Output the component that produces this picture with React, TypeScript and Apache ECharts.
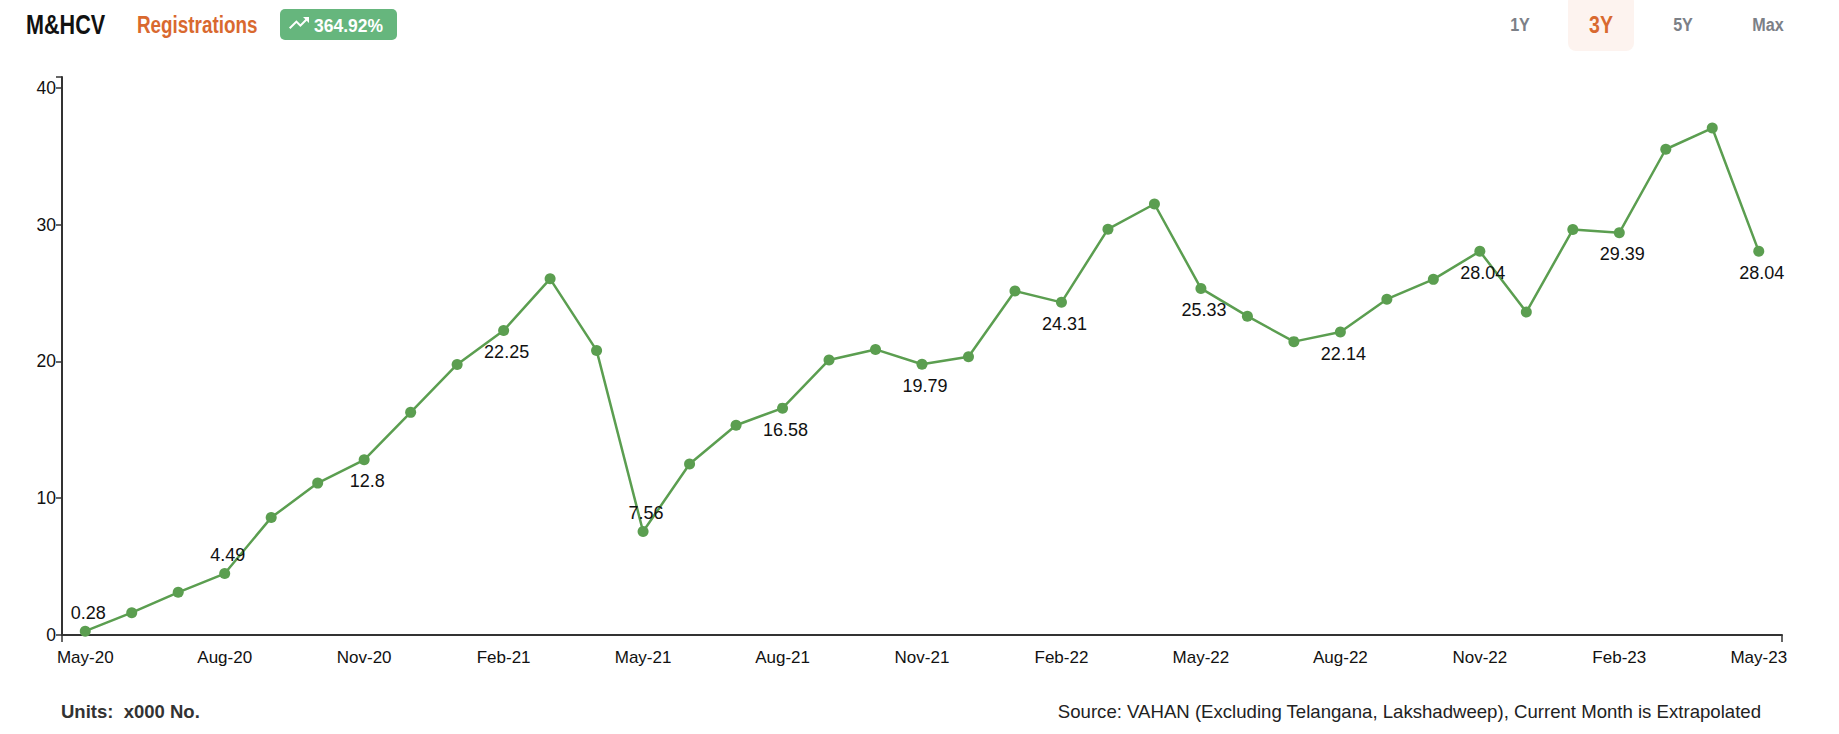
import React, { useEffect, useRef } from "react";
import * as echarts from "echarts";

const categories = [
  "May-20","Jun-20","Jul-20","Aug-20","Sep-20","Oct-20","Nov-20","Dec-20","Jan-21","Feb-21","Mar-21","Apr-21",
  "May-21","Jun-21","Jul-21","Aug-21","Sep-21","Oct-21","Nov-21","Dec-21","Jan-22","Feb-22","Mar-22","Apr-22",
  "May-22","Jun-22","Jul-22","Aug-22","Sep-22","Oct-22","Nov-22","Dec-22","Jan-23","Feb-23","Mar-23","Apr-23","May-23",
];
const values = [
  0.28, 1.63, 3.12, 4.49, 8.58, 11.1, 12.8, 16.27, 19.77, 22.25, 26.03, 20.8,
  7.56, 12.5, 15.33, 16.58, 20.1, 20.87, 19.79, 20.34, 25.14, 24.31, 29.66, 31.5,
  25.33, 23.3, 21.44, 22.14, 24.54, 25.99, 28.04, 23.6, 29.63, 29.39, 35.5, 37.05, 28.04,
];
// indices whose value is printed, and where the label sits
const labelAbove = [0, 3, 12];
const labelEvery = 3;
const yTicks = [0, 10, 20, 30, 40];
const yMax = 40.78;
const rangeButtons = ["1Y", "3Y", "5Y", "Max"];
const activeRange = "3Y";
const changePct = "364.92%";

const GREEN = "#5b9e50";
const ARROW =
  "M16 6l2.29 2.29-4.88 4.88-4-4L2 16.59 3.41 18l6-6 4 4 6.3-6.29L22 12V6z";

export default function App() {
  const ref = useRef<HTMLDivElement>(null);
  useEffect(() => {
    document.body.style.margin = "0";
    try {
      echarts.graphic.registerShape("trendup", echarts.graphic.extendPath(ARROW, {}));
    } catch (e) {}
    const chart = echarts.init(ref.current!, undefined, { renderer: "svg" });
    const font = "'Liberation Sans', Arial, sans-serif";

    const data = values.map((v, i) => {
      const show = i % labelEvery === 0;
      const above = labelAbove.includes(i);
      return {
        value: v,
        label: {
          show,
          position: above ? "top" : "bottom",
          distance: above ? 4 : 7,
        },
      };
    });

    const btnX = [1520, 1601, 1683, 1768];
    const buttons: any[] = [];
    rangeButtons.forEach((b, i) => {
      const active = b === activeRange;
      if (active) {
        buttons.push({
          type: "rect",
          shape: { x: btnX[i] - 33, y: -6, width: 66, height: 57, r: 8 },
          style: { fill: "#fdf3ef" },
        });
      }
      buttons.push({
        type: "text",
        x: btnX[i],
        y: 25,
        scaleX: 0.85,
        style: {
          text: b,
          fill: active ? "#d9692f" : "#7c8087",
          font: `bold ${active ? 23 : 19}px ${font}`,
          align: "center",
          verticalAlign: "middle",
        },
      });
    });

    chart.setOption({
      animation: false,
      grid: { left: 62, right: 57, top: 77, bottom: 99 },
      xAxis: [
        {
          type: "category",
          data: categories,
          boundaryGap: true,
          axisLine: { lineStyle: { color: "#333", width: 2 } },
          axisTick: { alignWithLabel: true, interval: labelEvery - 1, length: 7, lineStyle: { color: "#333", width: 1.5 } },
          axisLabel: { interval: labelEvery - 1, color: "#111", fontSize: 17, fontFamily: font, margin: 14 },
          splitLine: { show: false },
        },
        {
          type: "value",
          min: 0,
          max: 1,
          interval: 1,
          position: "bottom",
          axisLine: { show: false },
          axisTick: { show: true, length: 7, lineStyle: { color: "#333", width: 1.5 } },
          axisLabel: { show: false },
          splitLine: { show: false },
        },
      ],
      yAxis: [
        {
          type: "value",
          min: 0,
          max: yMax,
          interval: 10,
          axisLine: { show: true, lineStyle: { color: "#333", width: 2 } },
          axisTick: { show: true, length: 6, lineStyle: { color: "#333", width: 1.5 } },
          axisLabel: {
            color: "#111",
            fontSize: 17.5,
            fontFamily: font,
            margin: 6,
            formatter: (v: number) => (yTicks.includes(Math.round(v * 100) / 100) ? String(v) : ""),
          },
          splitLine: { show: false },
        },
      ],
      series: [
        {
          type: "line",
          data,
          symbol: "circle",
          symbolSize: 11,
          itemStyle: { color: GREEN },
          lineStyle: { color: GREEN, width: 2.5 },
          label: {
            color: "#111",
            fontSize: 18,
            fontFamily: font,
            offset: [3, 0],
            formatter: (p: any) => String(p.value),
          },
        },
      ],
      graphic: [
        {
          type: "text",
          x: 26,
          y: 25,
          scaleX: 0.8,
          style: { text: "M&HCV", fill: "#111", font: `bold 27px ${font}`, verticalAlign: "middle" },
        },
        {
          type: "text",
          x: 137,
          y: 25,
          scaleX: 0.82,
          style: { text: "Registrations", fill: "#d9692f", font: `bold 23px ${font}`, verticalAlign: "middle" },
        },
        {
          type: "rect",
          shape: { x: 280, y: 9, width: 117, height: 31, r: 5 },
          style: { fill: "#66b67d" },
        },
        {
          type: "trendup",
          x: 287,
          y: 11,
          scaleX: 1.0,
          scaleY: 1.0,
          style: { fill: "#ffffff" },
        },
        {
          type: "text",
          x: 314,
          y: 25,
          scaleX: 0.92,
          style: { text: changePct, fill: "#ffffff", font: `bold 19px ${font}`, verticalAlign: "middle" },
        },
        ...buttons,
        {
          type: "text",
          x: 61,
          y: 711,
          style: { text: "Units:  x000 No.", fill: "#333", font: `bold 18.5px ${font}`, verticalAlign: "middle" },
        },
        {
          type: "text",
          x: 1761,
          y: 711,
          style: {
            text: "Source: VAHAN (Excluding Telangana, Lakshadweep), Current Month is Extrapolated",
            fill: "#222",
            font: `18.6px ${font}`,
            align: "right",
            verticalAlign: "middle",
          },
        },
      ],
    });
    return () => chart.dispose();
  }, []);
  return <div ref={ref} style={{ width: 1839, height: 734 }} />;
}
